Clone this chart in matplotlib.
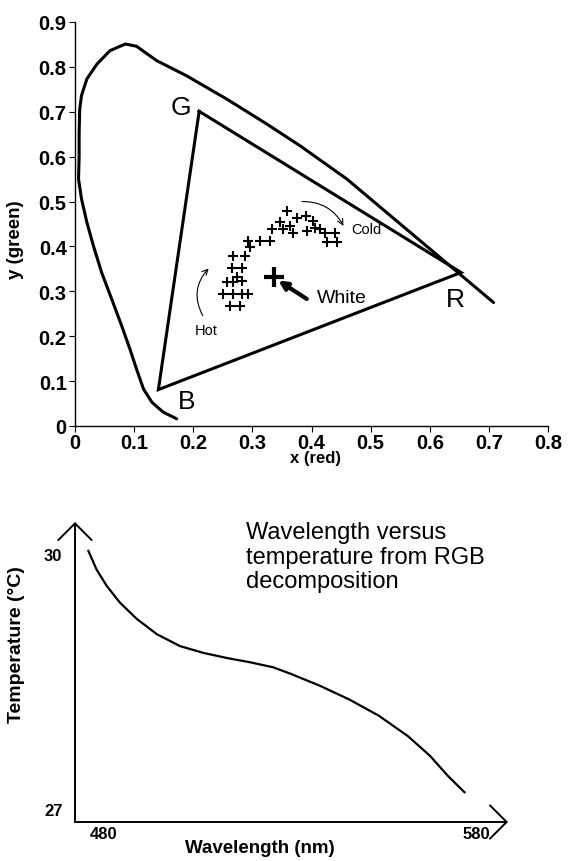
import numpy as np
import matplotlib.pyplot as plt

plt.rcParams['font.family'] = ['Liberation Sans', 'DejaVu Sans']

# spectral locus (traced)
locus_x = [0.172, 0.149, 0.130, 0.116, 0.104, 0.093, 0.079, 0.062, 0.045, 0.031, 0.020,
           0.011, 0.006, 0.007, 0.007, 0.008, 0.011, 0.020, 0.037, 0.059, 0.085, 0.104,
           0.138, 0.189, 0.257, 0.324, 0.381, 0.460, 0.708]
locus_y = [0.016, 0.031, 0.053, 0.082, 0.127, 0.171, 0.223, 0.283, 0.342, 0.402, 0.454,
           0.506, 0.550, 0.602, 0.654, 0.706, 0.736, 0.773, 0.806, 0.836, 0.851, 0.846,
           0.814, 0.780, 0.728, 0.673, 0.624, 0.550, 0.275]

# RGB triangle
tri_names = ['G', 'R', 'B']
tri_x = [0.210, 0.653, 0.141]
tri_y = [0.701, 0.342, 0.081]

# measured chromaticities
pts_x = [0.359, 0.375, 0.391, 0.403, 0.347, 0.364, 0.352, 0.369, 0.392, 0.406, 0.415,
         0.423, 0.440, 0.426, 0.443, 0.333, 0.330, 0.313, 0.293, 0.296, 0.268, 0.288,
         0.265, 0.282, 0.257, 0.268, 0.282, 0.274, 0.251, 0.268, 0.282, 0.293, 0.262, 0.279]
pts_y = [0.480, 0.463, 0.467, 0.457, 0.454, 0.446, 0.439, 0.430, 0.435, 0.440, 0.439,
         0.431, 0.430, 0.409, 0.409, 0.439, 0.413, 0.413, 0.413, 0.398, 0.379, 0.379,
         0.351, 0.351, 0.320, 0.320, 0.324, 0.331, 0.294, 0.294, 0.294, 0.294, 0.268, 0.268]
white = (0.336, 0.331)

# wavelength vs temperature
wavelength = [475.8, 478.0, 480.7, 484.3, 488.8, 494.2, 500.4, 506.7, 513.0, 519.2, 525.5,
              530.4, 538.2, 546.0, 553.9, 561.7, 567.6, 572.5, 576.9]
temperature = [30.04, 29.82, 29.63, 29.43, 29.24, 29.06, 28.92, 28.84, 28.78, 28.73, 28.67,
               28.59, 28.45, 28.29, 28.10, 27.86, 27.63, 27.39, 27.20]

fig = plt.figure(figsize=(5.7, 8.62), dpi=100)

# ---- top: chromaticity diagram
ax = fig.add_axes([75/570, 1-427/862, 473/570, 404/862])
ax.plot(locus_x, locus_y, color='black', lw=2.2, solid_joinstyle='round', solid_capstyle='round')
ax.plot(tri_x + [tri_x[0]], tri_y + [tri_y[0]], color='black', lw=2.2, solid_joinstyle='miter')
ax.plot(pts_x, pts_y, '+', color='black', ms=7, mew=1.5)
ax.plot([white[0]], [white[1]], '+', color='black', ms=14, mew=3)
ax.annotate('', xy=(0.344, 0.324), xytext=(0.392, 0.283),
            arrowprops=dict(arrowstyle='-|>,head_length=0.5,head_width=0.25', lw=3, color='black',
                            shrinkA=0, shrinkB=0))
ax.text(0.452, 0.287, 'White', fontsize=14, ha='center', va='center')
ax.annotate('', xy=(0.454, 0.446), xytext=(0.384, 0.500),
            arrowprops=dict(arrowstyle='->', lw=0.8, color='black', connectionstyle='arc3,rad=-0.3',
                            shrinkA=0, shrinkB=0))
ax.text(0.493, 0.439, 'Cold', fontsize=10.5, ha='center', va='center')
ax.annotate('', xy=(0.226, 0.351), xytext=(0.216, 0.246),
            arrowprops=dict(arrowstyle='->', lw=0.8, color='black', connectionstyle='arc3,rad=-0.35',
                            shrinkA=0, shrinkB=0))
ax.text(0.222, 0.214, 'Hot', fontsize=10.5, ha='center', va='center')
ax.text(0.180, 0.710, 'G', fontsize=19, ha='center', va='center')
ax.text(0.643, 0.283, 'R', fontsize=19, ha='center', va='center')
ax.text(0.188, 0.056, 'B', fontsize=19, ha='center', va='center')

ax.set_xlim(0, 0.8)
ax.set_ylim(0, 0.9)
ax.set_xticks(np.arange(0, 0.81, 0.1))
ax.set_xticklabels(['0', '0.1', '0.2', '0.3', '0.4', '0.5', '0.6', '0.7', '0.8'])
ax.set_yticks(np.arange(0, 0.91, 0.1))
ax.set_yticklabels(['0', '0.1', '0.2', '0.3', '0.4', '0.5', '0.6', '0.7', '0.8', '0.9'])
for lab in ax.get_xticklabels() + ax.get_yticklabels():
    lab.set_fontsize(14.5)
    lab.set_fontweight('bold')
ax.tick_params(axis='x', length=4, width=0.8, pad=1)
ax.tick_params(axis='y', length=4, width=0.8, pad=2)
ax.spines['top'].set_visible(False)
ax.spines['right'].set_visible(False)
for s in ['left', 'bottom']:
    ax.spines[s].set_linewidth(1.0)
fig.text(316/570, 1-459/862, 'x (red)', fontsize=12, fontweight='bold', ha='center', va='center')
fig.text(15/570, 1-240/862, 'y (green)', fontsize=13.5, fontweight='bold', ha='center', va='center',
         rotation=90)

# ---- bottom: wavelength vs temperature
ax2 = fig.add_axes([75/570, 1-823/862, 433/570, 300/862])
ax2.plot(wavelength, temperature, color='black', lw=1.6, solid_joinstyle='round')
ax2.set_xlim(472.2, 588.6)
ax2.set_ylim(26.85, 30.38)
ax2.set_xticks([480, 580])
ax2.set_yticks([27, 30])
for lab in ax2.get_xticklabels() + ax2.get_yticklabels():
    lab.set_fontsize(12)
    lab.set_fontweight('bold')
ax2.tick_params(axis='x', length=0, pad=3)
ax2.tick_params(axis='y', length=0, pad=9)
for s in ax2.spines.values():
    s.set_visible(False)
arr = dict(arrowstyle='->,head_length=0.6,head_width=0.6', lw=1.4, color='black',
           mutation_scale=20, shrinkA=0, shrinkB=0)
ax2.annotate('', xy=(1, 0), xytext=(0, 0), xycoords='axes fraction', arrowprops=arr)
ax2.annotate('', xy=(0, 1), xytext=(0, 0), xycoords='axes fraction', arrowprops=arr)
fig.text(260/570, 1-849/862, 'Wavelength (nm)', fontsize=13.5, fontweight='bold', ha='center', va='center')
fig.text(17/570, 1-645/862, 'Temperature (°C)', fontsize=14, fontweight='bold', ha='center',
         va='center', rotation=90)
fig.text(246/570, 1-522/862, 'Wavelength versus\ntemperature from RGB\ndecomposition',
         fontsize=17, ha='left', va='top', linespacing=1.15)

fig.savefig('out.png', dpi=100)
